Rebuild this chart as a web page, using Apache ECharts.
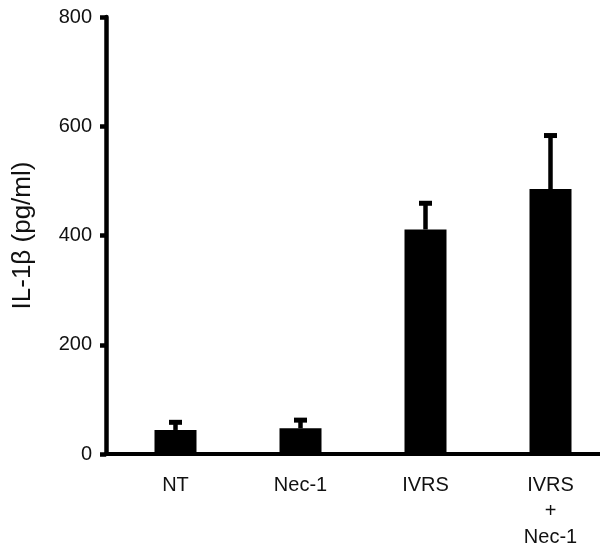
<!DOCTYPE html>
<html>
<head>
<meta charset="utf-8">
<script src="https://cdn.jsdelivr.net/npm/echarts@6/dist/echarts.min.js"></script>
<style>
html,body{margin:0;padding:0;background:#fff;}
#chart{width:600px;height:547px;}
</style>
</head>
<body>
<div id="chart"></div>
<script>
var categories = ['NT', 'Nec-1', 'IVRS', 'IVRS\n+\nNec-1'];
var means = [44, 47, 411, 485];
var errors = [14, 15, 48, 98];
var yTicks = [0, 200, 400, 600, 800];

var FONT = '"Liberation Sans", Arial, sans-serif';
var chart = echarts.init(document.getElementById('chart'), null, {renderer: 'canvas'});

var errData = means.map(function (m, i) { return [i, m, m + errors[i]]; });

var option = {
  animation: false,
  backgroundColor: '#ffffff',
  grid: [
    {left: 113, right: -13, top: 17, bottom: 93, containLabel: false, outerBoundsMode: 'none'},
    {left: 106, right: 0, top: 17, bottom: 93, containLabel: false, outerBoundsMode: 'none'}
  ],
  xAxis: [
    {
      type: 'category', gridIndex: 0, data: categories,
      axisLine: {show: false}, axisTick: {show: false}, splitLine: {show: false},
      axisLabel: {interval: 0, color: '#111', fontFamily: FONT, fontSize: 20, lineHeight: 26, margin: 18}
    },
    {
      type: 'value', gridIndex: 1, min: 0, max: 1,
      axisLine: {show: true, lineStyle: {color: '#000', width: 4}},
      axisTick: {show: false}, axisLabel: {show: false}, splitLine: {show: false}
    }
  ],
  yAxis: [
    {
      type: 'value', gridIndex: 0, min: yTicks[0], max: yTicks[yTicks.length - 1],
      show: false
    },
    {
      type: 'value', gridIndex: 1, min: yTicks[0], max: yTicks[yTicks.length - 1], interval: 200,
      name: 'IL-1\u03b2 (pg/ml)', nameLocation: 'middle', nameGap: 70,
      nameTextStyle: {color: '#111', fontFamily: FONT, fontSize: 26},
      axisLine: {show: true, lineStyle: {color: '#000', width: 4.5}},
      axisTick: {show: true, length: 6, lineStyle: {color: '#000', width: 4.5}},
      axisLabel: {color: '#111', fontFamily: FONT, fontSize: 20, margin: 14},
      splitLine: {show: false}
    }
  ],
  series: [
    {
      type: 'bar', xAxisIndex: 0, yAxisIndex: 0, data: means,
      barWidth: 42, itemStyle: {color: '#000'}, z: 2
    },
    {
      type: 'custom', xAxisIndex: 0, yAxisIndex: 0, data: errData, z: 3,
      renderItem: function (params, api) {
        var i = api.value(0);
        var base = api.coord([i, api.value(1)]);
        var top = api.coord([i, api.value(2)]);
        var capW = 13, capH = 5, stemW = 4.5;
        return {
          type: 'group',
          children: [
            {type: 'rect', shape: {x: base[0] - stemW / 2, y: top[1], width: stemW, height: base[1] - top[1]}, style: {fill: '#000'}},
            {type: 'rect', shape: {x: top[0] - capW / 2, y: top[1] - capH / 2, width: capW, height: capH}, style: {fill: '#000'}}
          ]
        };
      }
    }
  ]
};
chart.setOption(option);
</script>
</body>
</html>
